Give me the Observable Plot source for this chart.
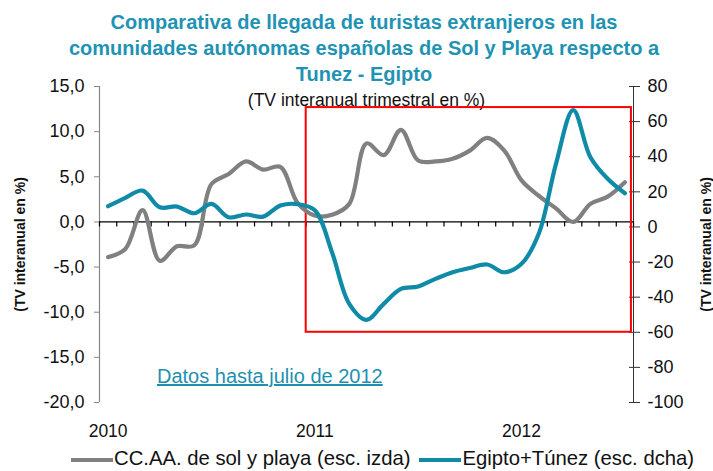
<!DOCTYPE html>
<html>
<head>
<meta charset="utf-8">
<script src="https://cdn.jsdelivr.net/npm/d3@7"></script>
<script src="https://cdn.jsdelivr.net/npm/@observablehq/plot@0.6"></script>
<style>
  html, body { margin: 0; padding: 0; background: #fff; }
  #wrap { position: relative; width: 713px; height: 471px; overflow: hidden; font-family: "Liberation Sans", Arial, sans-serif; }
  #title { position: absolute; top: 9px; left: 0; width: 728px; text-align: center; color: #1f93b3; font-weight: bold; font-size: 20px; line-height: 26px; z-index: 2; }
  #chart { position: absolute; top: 80px; left: 0; z-index: 1; }
  #note { position: absolute; left: 157px; top: 365px; font-size: 20px; color: #1f8fb0; text-decoration: underline; z-index: 3; }
  #legend { position: absolute; left: 71px; top: 447px; font-size: 20.3px; color: #111; white-space: nowrap; z-index: 3; line-height: 22px; }
  .sw { display: inline-block; width: 42px; height: 4px; vertical-align: middle; margin-right: 1px; }
</style>
</head>
<body>
<div id="wrap">
  <div id="title">Comparativa de llegada de turistas extranjeros en las<br>comunidades autónomas españolas de Sol y Playa respecto a<br>Tunez - Egipto</div>
  <div id="chart"></div>
  <div id="note">Datos hasta julio de 2012</div>
  <div id="legend"></div>
</div>
<script>
// ---- data ----
const months = ["2010-01","2010-02","2010-03","2010-04","2010-05","2010-06","2010-07","2010-08","2010-09","2010-10","2010-11","2010-12",
                "2011-01","2011-02","2011-03","2011-04","2011-05","2011-06","2011-07","2011-08","2011-09","2011-10","2011-11","2011-12",
                "2012-01","2012-02","2012-03","2012-04","2012-05","2012-06","2012-07"];
const solPlaya = [-3.9, -3.0, 1.3, -4.3, -2.7, -2.6, 4.2, 5.3, 6.7, 5.8, 6.1, 2.1,
                  0.7, 0.8, 2.0, 8.7, 7.4, 10.2, 6.8, 6.7, 7.0, 7.9, 9.3, 7.9,
                  4.6, 2.9, 1.5, 0.0, 2.0, 2.8, 4.4];
const egiptoTunez = [11.8, 16.6, 20.7, 11.2, 11.6, 7.8, 13.1, 5.5, 7.1, 5.9, 12.2, 13.0,
                     9.5, -14.5, -43.8, -52.9, -43.8, -35.3, -33.9, -29.6, -25.8, -23.4, -21.4, -25.8,
                     -21.0, -3.9, 35.9, 66.5, 39.7, 27.4, 19.2];
const yearLabels = ["2010", "2011", "2012"];
const leftTicks = [15, 10, 5, 0, -5, -10, -15, -20];
const rightTicks = [80, 60, 40, 20, 0, -20, -40, -60, -80, -100];
const leftDomain = [-20, 15];
const rightDomain = [-100, 80];
const highlightRight = [-60, 68];   // red box (right-scale units)
const highlightMonths = ["2011-01", "2012-07"];
const seriesNames = ["CC.AA. de sol y playa (esc. izda)", "Egipto+Túnez (esc. dcha)"];
const colors = ["#808080", "#0f8ba8"];

// ---- helpers ----
const toLeft = w => leftDomain[0] + (w - rightDomain[0]) * (leftDomain[1] - leftDomain[0]) / (rightDomain[1] - rightDomain[0]);
const fromLeft = v => rightDomain[0] + (v - leftDomain[0]) * (rightDomain[1] - rightDomain[0]) / (leftDomain[1] - leftDomain[0]);
const nM = months.length;
const gray = months.map((m, i) => ({i, v: solPlaya[i]}));
const blue = months.map((m, i) => ({i, v: toLeft(egiptoTunez[i])}));
const yearPos = yearLabels.map(y => months.indexOf(y + "-01") + 0.5);
const boundaries = d3.range(0, nM + 1);
const boxX1 = months.indexOf(highlightMonths[0]);
const boxX2 = months.indexOf(highlightMonths[1]) + 0.88;

const font = "Liberation Sans, Arial, sans-serif";

const chart = Plot.plot({
  width: 713, height: 360,
  marginTop: 6, marginBottom: 38, marginLeft: 99, marginRight: 80,
  x: {type: "linear", domain: [0, nM], axis: null},
  y: {domain: leftDomain, axis: null},
  style: {background: "transparent", overflow: "visible", fontFamily: font, color: "#111"},
  marks: [
    // axis lines
    Plot.ruleX([0], {y1: leftDomain[0], y2: leftDomain[1], stroke: "#868686", strokeWidth: 1.2}),
    Plot.ruleX([nM], {y1: leftDomain[0], y2: leftDomain[1], stroke: "#333", strokeWidth: 1}),
    Plot.axisY({anchor: "left", label: null, ticks: leftTicks, tickSize: 5, tickPadding: 10, fontSize: 18,
      stroke: "#868686", tickFormat: d => d.toFixed(1).replace(".", ",")}),
    Plot.axisY({anchor: "right", label: null, ticks: rightTicks.map(toLeft), tickSize: 6, tickPadding: 8, fontSize: 18,
      stroke: "#333", tickFormat: d => String(Math.round(fromLeft(d)))}),
    Plot.axisY({anchor: "right", label: null, ticks: rightTicks.map(toLeft), tickSize: -5, stroke: "#333", tickFormat: () => ""}),
    // category axis at zero
    Plot.ruleY([0], {x1: 0, x2: nM, stroke: "#000", strokeWidth: 1.3}),
    Plot.ruleX(boundaries, {x: d => d, y1: 0, y2: -0.55, stroke: "#000", strokeWidth: 1.2}),
    Plot.axisX({anchor: "bottom", label: null, ticks: yearPos, tickSize: 0, tickPadding: 22, fontSize: 17.5,
      tickFormat: d => yearLabels[yearPos.indexOf(d)]}),
    // axis titles & subtitle
    Plot.text(["(TV interanual en %)"], {frameAnchor: "left", dx: -79, rotate: -90, textAnchor: "middle", lineAnchor: "middle", fontWeight: "bold", fontSize: 14}),
    Plot.text(["(TV interanual en %)"], {frameAnchor: "right", dx: 73, rotate: -90, textAnchor: "middle", lineAnchor: "middle", fontWeight: "bold", fontSize: 14}),
    Plot.text(["(TV interanual trimestral en %)"], {frameAnchor: "top", dy: 14, lineAnchor: "middle", fontSize: 17.5}),
    // highlight box
    Plot.rect([0], {x1: boxX1, x2: boxX2, y1: toLeft(highlightRight[0]), y2: toLeft(highlightRight[1]),
      fill: "none", stroke: "#ff0000", strokeWidth: 2}),
    // series
    Plot.line(gray, {x: d => d.i + 0.5, y: "v", stroke: colors[0], strokeWidth: 4.2, curve: "catmull-rom"}),
    Plot.line(blue, {x: d => d.i + 0.5, y: "v", stroke: colors[1], strokeWidth: 4.2, curve: "catmull-rom"})
  ]
});
document.getElementById("chart").appendChild(chart);

const legend = document.getElementById("legend");
legend.innerHTML = seriesNames.map((n, k) =>
  `<span class="sw" style="background:${colors[k]}"></span><span style="margin-right:${k === 0 ? 9 : 0}px">${n}</span>`).join("");
</script>
</body>
</html>
